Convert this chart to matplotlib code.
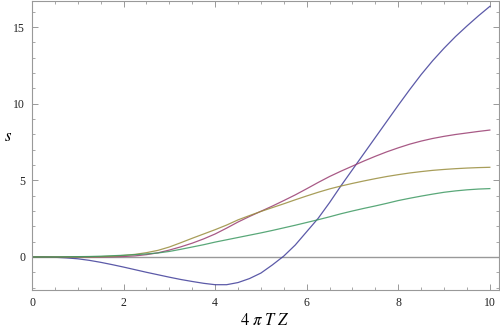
import matplotlib
matplotlib.use("Agg")
import matplotlib.pyplot as plt
from matplotlib.ticker import MultipleLocator

# values, x step 0.25
x = [i * 0.25 for i in range(41)]
s_blue = [0, 0, -0.02, -0.06, -0.12, -0.22, -0.35, -0.5, -0.66, -0.83,
          -1.0, -1.16, -1.32, -1.47, -1.6, -1.72, -1.81, -1.81, -1.67, -1.41,
          -1.05, -0.52, 0.06, 0.78, 1.65, 2.52, 3.55, 4.65, 5.7, 6.75,
          7.8, 8.85, 9.9, 10.92, 11.9, 12.8, 13.62, 14.38, 15.07, 15.73, 16.35]
s_magenta = [0, 0, 0, 0, 0, 0, 0, 0.01, 0.03, 0.07,
             0.15, 0.27, 0.45, 0.66, 0.9, 1.18, 1.5, 1.88, 2.28, 2.64,
             2.98, 3.32, 3.68, 4.05, 4.45, 4.86, 5.25, 5.6, 5.93, 6.26,
             6.57, 6.86, 7.12, 7.36, 7.56, 7.73, 7.87, 7.99, 8.09, 8.19, 8.28]
s_gold = [0, 0, 0, 0, 0, 0.01, 0.02, 0.05, 0.1, 0.17,
          0.28, 0.43, 0.65, 0.93, 1.22, 1.5, 1.78, 2.08, 2.42, 2.7,
          2.97, 3.22, 3.47, 3.73, 3.98, 4.22, 4.44, 4.63, 4.8, 4.96,
          5.11, 5.25, 5.37, 5.48, 5.57, 5.65, 5.71, 5.76, 5.8, 5.83, 5.85]
s_green = [0, 0, 0, 0.01, 0.02, 0.03, 0.05, 0.08, 0.11, 0.15,
           0.2, 0.26, 0.36, 0.5, 0.65, 0.8, 0.97, 1.12, 1.27, 1.42,
           1.57, 1.73, 1.9, 2.07, 2.25, 2.43, 2.62, 2.82, 3.0, 3.17,
           3.33, 3.5, 3.68, 3.83, 3.97, 4.1, 4.22, 4.31, 4.38, 4.43, 4.46]

colors = ["#3f3d99", "#993d71", "#998d3d", "#3d9962"]

plt.rcParams["font.family"] = ["Liberation Serif", "DejaVu Serif"]
plt.rcParams["mathtext.fontset"] = "stix"

fig = plt.figure(figsize=(5, 3.34), dpi=100)
ax = fig.add_axes([0.064, 0.132, 0.934, 0.865])

ax.axhline(0, color="#999999", lw=1.0, zorder=1)
for ys, c in zip([s_blue, s_magenta, s_gold, s_green], colors):
    ax.plot(x, ys, color=c, lw=0.9, alpha=0.85, zorder=2)

ax.set_xlim(0, 10.2)
ax.set_ylim(-2.15, 16.7)

ax.xaxis.set_major_locator(MultipleLocator(2))
ax.xaxis.set_minor_locator(MultipleLocator(0.5))
ax.yaxis.set_major_locator(MultipleLocator(5))
ax.yaxis.set_minor_locator(MultipleLocator(1))

for sp in ax.spines.values():
    sp.set_color("#999999")
    sp.set_linewidth(0.8)

ax.tick_params(which="both", direction="in", top=True, right=True, color="#999999",
               labelsize=8.5, labelcolor="#222222", pad=5)
ax.tick_params(which="major", length=4, width=0.7)
ax.tick_params(which="minor", length=2.2, width=0.6)

ax.set_xlabel(r"$4\ \pi\ T\ Z$", fontsize=12, labelpad=3)
ax.set_ylabel(r"$s$", fontsize=12, rotation=0)
ax.yaxis.set_label_coords(-0.052, 0.5)

fig.savefig("out.png", dpi=100)
